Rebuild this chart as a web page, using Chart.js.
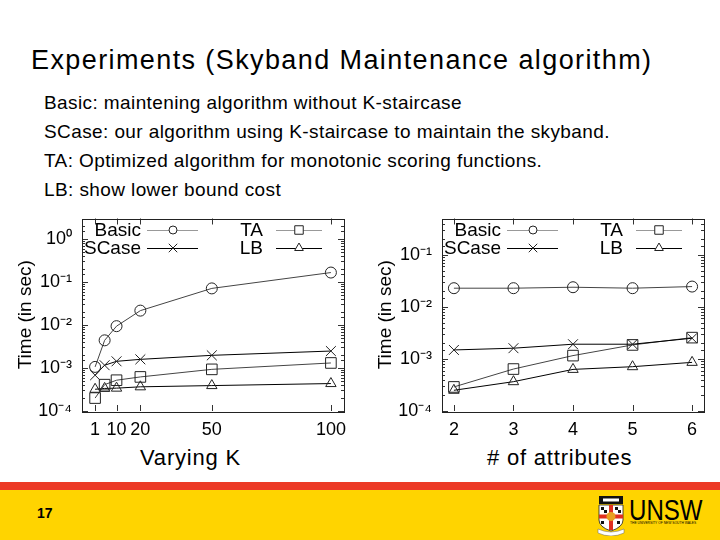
<!DOCTYPE html>
<html><head><meta charset="utf-8">
<script src="https://cdn.jsdelivr.net/npm/chart.js@4.4.1/dist/chart.umd.min.js"></script>
<style>
html,body{margin:0;padding:0;}
body{width:720px;height:540px;position:relative;overflow:hidden;background:#fff;font-family:"Liberation Sans",Arial,sans-serif;color:#000;}
.abs{position:absolute;white-space:nowrap;}
#title{left:31px;top:46.5px;font-size:27px;line-height:27px;letter-spacing:1.4px;}
.bul{left:44px;font-size:19px;line-height:29px;letter-spacing:0.4px;}
.xt{font-size:22px;line-height:22px;letter-spacing:0.8px;top:447.4px;}
canvas{position:absolute;}
#red{left:0;top:482px;width:720px;height:8px;background:#ec3a26;}
#yel{left:0;top:490px;width:720px;height:50px;background:#ffd400;}
#pg{left:37px;top:506px;font-size:14px;line-height:14px;font-weight:bold;}
#unsw{left:629px;top:496px;font-size:29px;line-height:29px;transform:scaleX(0.83);transform-origin:0 0;}
#uni{left:630px;top:521.5px;font-size:3.3px;line-height:3.3px;}
</style>
</head>
<body>
<div class="abs" id="title">Experiments (Skyband Maintenance algorithm)</div>
<div class="abs bul" style="top:87.6px">Basic: maintening algorithm without K-staircase</div>
<div class="abs bul" style="top:116.6px">SCase: our algorithm using K-staircase to maintain the skyband.</div>
<div class="abs bul" style="top:145.6px">TA: Optimized algorithm for monotonic scoring functions.</div>
<div class="abs bul" style="top:174.6px">LB: show lower bound cost</div>

<canvas id="c1" width="360" height="230" style="left:0;top:210px;width:360px;height:230px"></canvas>
<canvas id="c2" width="360" height="230" style="left:360px;top:210px;width:360px;height:230px"></canvas>

<div class="abs xt" style="left:140px">Varying K</div>
<div class="abs xt" style="left:487px"># of attributes</div>

<div class="abs" id="red"></div>
<div class="abs" id="yel"></div>
<div class="abs" id="pg">17</div>
<svg class="abs" style="left:596px;top:496px" width="30" height="40" viewBox="0 0 30 40">
  <rect x="3" y="0" width="24" height="8" fill="#111"/>
  <rect x="7" y="2.5" width="16" height="3" fill="#fff"/>
  <path d="M3 9 H27 V24 Q27 31 15 35 Q3 31 3 24 Z" fill="#fff" stroke="#222" stroke-width="0.8"/>
  <rect x="5" y="11" width="3" height="3" fill="#111"/><rect x="8" y="14" width="3" height="3" fill="#111"/>
  <rect x="19" y="11" width="3" height="3" fill="#111"/><rect x="22" y="14" width="3" height="3" fill="#111"/>
  <rect x="5" y="25" width="3" height="3" fill="#111"/><rect x="21" y="25" width="3" height="3" fill="#111"/>
  <rect x="13" y="9" width="4" height="25" fill="#e03020"/>
  <rect x="3" y="18.5" width="24" height="4" fill="#e03020"/>
  <circle cx="15" cy="20.5" r="4.5" fill="#e8a020"/>
  <path d="M2 33 Q15 39 28 33 L28 37 Q15 43 2 37 Z" fill="#fff" stroke="#666" stroke-width="0.5"/>
</svg>
<div class="abs" id="unsw">UNSW</div>
<div class="abs" id="uni">THE UNIVERSITY OF NEW SOUTH WALES</div>

<script>
// ---- data: Varying K ----
const kValues   = [1, 5, 10, 20, 50, 100];
const kTicks    = [1, 10, 20, 50, 100];
const basicK    = [1.06e-3, 4.4e-3, 9.4e-3, 0.0216, 0.071, 0.166];
const scaseK    = [6.8e-4, 1.16e-3, 1.43e-3, 1.59e-3, 1.97e-3, 2.48e-3];
const taK       = [2.0e-4, 4.1e-4, 5.2e-4, 6.2e-4, 9.3e-4, 1.31e-3];
const lbK       = [3.2e-4, 3.35e-4, 3.4e-4, 3.65e-4, 3.9e-4, 4.35e-4];
// ---- data: # of attributes ----
const attrValues = [2, 3, 4, 5, 6];
const attrTicks  = [2, 3, 4, 5, 6];
const basicA     = [0.0229, 0.0229, 0.0239, 0.0229, 0.0246];
const scaseA     = [1.49e-3, 1.61e-3, 1.92e-3, 1.92e-3, 2.5e-3];
const taA        = [2.9e-4, 6.4e-4, 1.16e-3, 1.86e-3, 2.57e-3];
const lbA        = [2.5e-4, 3.66e-4, 6.3e-4, 7.1e-4, 8.6e-4];
const seriesNames = ['Basic', 'SCase', 'TA', 'LB'];
const yTitle = 'Time (in sec)';

const FONT = '"Liberation Sans", Arial, sans-serif';
const SUP = {'-':'\u207B','0':'\u2070','1':'\u00B9','2':'\u00B2','3':'\u00B3','4':'\u2074','5':'\u2075'};
function sup(n){ return String(n).split('').map(c => SUP[c]).join(''); }
function isPow10(v){ const l = Math.log10(v); return Math.abs(l - Math.round(l)) < 1e-6; }

const styles = [
  {color:'#444', legend:'#999', pointStyle:'circle',   radius:5.5, lr:4},
  {color:'#000', legend:'#000', pointStyle:'crossRot', radius:7,   lr:6},
  {color:'#444', legend:'#999', pointStyle:'rect',     radius:7.5, lr:6},
  {color:'#000', legend:'#000', pointStyle:'triangle', radius:6,   lr:5}
];

const framePlugin = {
  id: 'gpFrame',
  beforeDatasetsDraw(chart) {
    const {ctx, chartArea: a, scales} = chart;
    ctx.save();
    ctx.strokeStyle = '#333';
    ctx.lineWidth = 1;
    ctx.beginPath();
    scales.y.ticks.forEach(t => {
      const y = Math.round(scales.y.getPixelForValue(t.value)) + 0.5;
      const len = isPow10(t.value) ? 6 : 3;
      ctx.moveTo(a.left, y); ctx.lineTo(a.left + len, y);
      ctx.moveTo(a.right, y); ctx.lineTo(a.right - len, y);
    });
    scales.x.ticks.forEach(t => {
      const x = Math.round(scales.x.getPixelForValue(t.value)) + 0.5;
      ctx.moveTo(x, a.bottom); ctx.lineTo(x, a.bottom - 6);
      ctx.moveTo(x, a.top); ctx.lineTo(x, a.top + 6);
    });
    ctx.stroke();
    ctx.strokeStyle = '#222';
    ctx.strokeRect(Math.round(a.left) + 0.5, Math.round(a.top) + 0.5,
                   Math.round(a.right - a.left), Math.round(a.bottom - a.top));
    ctx.restore();
  }
};

const legendPlugin = {
  id: 'gpLegend',
  afterDatasetsDraw(chart) {
    const ctx = chart.ctx;
    const textRight = [141, 263], lineL = [147, 276], lineR = [198, 322], markX = [173, 299], rowY = [20, 38];
    ctx.save();
    chart.data.datasets.forEach((ds, i) => {
      const col = Math.floor(i / 2), row = i % 2;
      const y = rowY[row];
      ctx.font = '19px ' + FONT;
      ctx.fillStyle = '#000';
      ctx.textAlign = 'right';
      ctx.textBaseline = 'middle';
      ctx.fillText(ds.label, textRight[col], y + 1);
      ctx.strokeStyle = ds.legendColor;
      ctx.lineWidth = 1;
      ctx.beginPath();
      ctx.moveTo(lineL[col], y + 0.5); ctx.lineTo(lineR[col], y + 0.5);
      ctx.stroke();
      ctx.fillStyle = '#fff';
      ctx.strokeStyle = '#222';
      Chart.helpers.drawPoint(ctx, {pointStyle: ds.pointStyle, rotation: 0, radius: ds.legendRadius, borderWidth: 1},
                              markX[col], y);
    });
    ctx.restore();
  }
};

function noPad(s) { s.paddingTop = 0; s.paddingBottom = 0; s.paddingLeft = 0; s.paddingRight = 0; }

function makeChart(id, xs, series, xMin, xMax, xTicks, yMax) {
  const datasets = series.map((vals, i) => ({
    label: seriesNames[i],
    data: xs.map((x, j) => ({x: x, y: vals[j]})),
    borderColor: styles[i].color,
    borderWidth: 1,
    backgroundColor: 'rgba(0,0,0,0)',
    pointStyle: styles[i].pointStyle,
    pointRadius: styles[i].radius,
    pointBorderColor: '#222',
    pointBorderWidth: 1,
    pointBackgroundColor: 'rgba(0,0,0,0)',
    legendColor: styles[i].legend,
    legendRadius: styles[i].lr,
    tension: 0,
    fill: false
  }));
  return new Chart(document.getElementById(id), {
    type: 'line',
    data: {datasets},
    plugins: [framePlugin, legendPlugin],
    options: {
      responsive: false,
      animation: false,
      layout: {padding: {left: 0, right: 16, top: 8, bottom: 0}},
      plugins: {legend: {display: false}, tooltip: {enabled: false}},
      scales: {
        x: {
          type: 'linear', min: xMin, max: xMax,
          afterBuildTicks: s => { s.ticks = xTicks.map(v => ({value: v})); },
          grid: {display: false, drawTicks: false},
          border: {display: false},
          ticks: {autoSkip: false, maxRotation: 0, padding: 8, color: '#000',
                  font: {family: FONT, size: 18}, callback: v => String(v)},
          afterFit: s => { s.height = 29; noPad(s); }
        },
        y: {
          type: 'logarithmic', min: 1e-4, max: yMax,
          grid: {display: false, drawTicks: false},
          border: {display: false},
          ticks: {autoSkip: false, padding: 10, color: '#000', font: {family: FONT, size: 18},
                  callback: v => isPow10(v) ? '10' + sup(Math.round(Math.log10(v))) : ''},
          title: {display: true, text: yTitle, color: '#000', font: {family: FONT, size: 19},
                  padding: {top: 14, bottom: 0}},
          afterFit: s => { s.width = 82; noPad(s); }
        }
      }
    }
  });
}

makeChart('c1', kValues, [basicK, scaseK, taK, lbK], -4.5, 105.5, kTicks, 3);
makeChart('c2', attrValues, [basicA, scaseA, taA, lbA], 1.8, 6.2, attrTicks, 0.5);
</script>
</body></html>
